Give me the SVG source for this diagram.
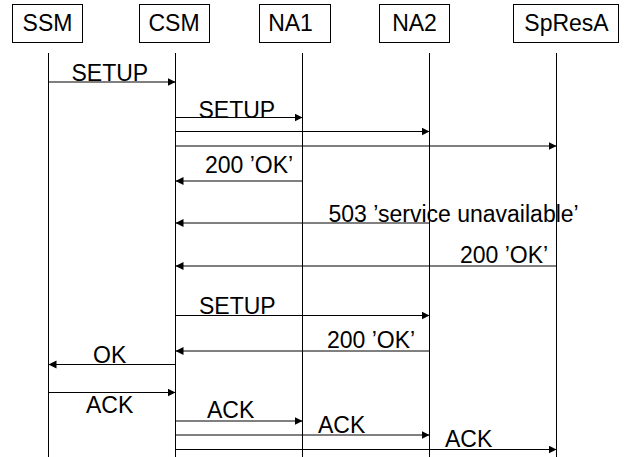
<svg xmlns="http://www.w3.org/2000/svg" width="624" height="457" viewBox="0 0 624 457">
<style>
text{font-family:"Liberation Sans",Arial,sans-serif;font-size:23px;fill:#000}
.box{fill:#fff;stroke:#000;stroke-width:1}
.life{stroke:#000;stroke-width:1}
.msg{stroke:#000;stroke-width:1;fill:none;marker-end:url(#ah)}
</style>
<defs>
<marker id="ah" markerUnits="userSpaceOnUse" markerWidth="9" markerHeight="9" refX="8" refY="4" orient="auto">
<path d="M0,0 L8,4 L0,8 z" fill="#000"/>
</marker>
</defs>
<g id="SSM"><rect class="box" x="12.5" y="4.5" width="70" height="38"/><text x="47.5" y="31" text-anchor="middle">SSM</text><line class="life" x1="48.5" y1="53" x2="48.5" y2="457"/></g>
<g id="CSM"><rect class="box" x="139.5" y="4.5" width="70" height="38"/><text x="174" y="31" text-anchor="middle">CSM</text><line class="life" x1="175.5" y1="53" x2="175.5" y2="457"/></g>
<g id="NA1"><rect class="box" x="259.5" y="4.5" width="71" height="38"/><text x="290.5" y="31" text-anchor="middle">NA1</text><line class="life" x1="302.5" y1="53" x2="302.5" y2="457"/></g>
<g id="NA2"><rect class="box" x="379.5" y="4.5" width="70" height="38"/><text x="414.5" y="31" text-anchor="middle">NA2</text><line class="life" x1="429.5" y1="53" x2="429.5" y2="457"/></g>
<g id="SpResA"><rect class="box" x="513.5" y="4.5" width="105" height="38"/><text x="566.5" y="31" text-anchor="middle">SpResA</text><line class="life" x1="556.5" y1="53" x2="556.5" y2="457"/></g>
<g id="connectors">
<line class="msg" x1="48.5" y1="82" x2="175.5" y2="82"/>
<line class="msg" x1="175.5" y1="117.5" x2="302.5" y2="117.5"/>
<line class="msg" x1="175.5" y1="131.5" x2="429.5" y2="131.5"/>
<line class="msg" x1="175.5" y1="146" x2="556.5" y2="146"/>
<line class="msg" x1="302.5" y1="181" x2="175.5" y2="181"/>
<line class="msg" x1="429.5" y1="223" x2="175.5" y2="223"/>
<line class="msg" x1="556.5" y1="266" x2="175.5" y2="266"/>
<line class="msg" x1="175.5" y1="315.5" x2="429.5" y2="315.5"/>
<line class="msg" x1="429.5" y1="351" x2="175.5" y2="351"/>
<line class="msg" x1="175.5" y1="364.5" x2="48.5" y2="364.5"/>
<line class="msg" x1="48.5" y1="392.5" x2="175.5" y2="392.5"/>
<line class="msg" x1="175.5" y1="421" x2="302.5" y2="421"/>
<line class="msg" x1="175.5" y1="435" x2="429.5" y2="435"/>
<line class="msg" x1="175.5" y1="449.5" x2="556.5" y2="449.5"/>
<text x="71.5" y="80.5">SETUP</text>
<text x="198.5" y="117.5">SETUP</text>
<text x="205" y="173">200 ’OK’</text>
<text x="328.5" y="221.5">503 ’service unavailable’</text>
<text x="460" y="263">200 ’OK’</text>
<text x="199" y="313.5">SETUP</text>
<text x="327" y="348">200 ’OK’</text>
<text x="93" y="363">OK</text>
<text x="86" y="412.5">ACK</text>
<text x="207" y="418">ACK</text>
<text x="318" y="433">ACK</text>
<text x="445" y="447">ACK</text>
</g>
</svg>
